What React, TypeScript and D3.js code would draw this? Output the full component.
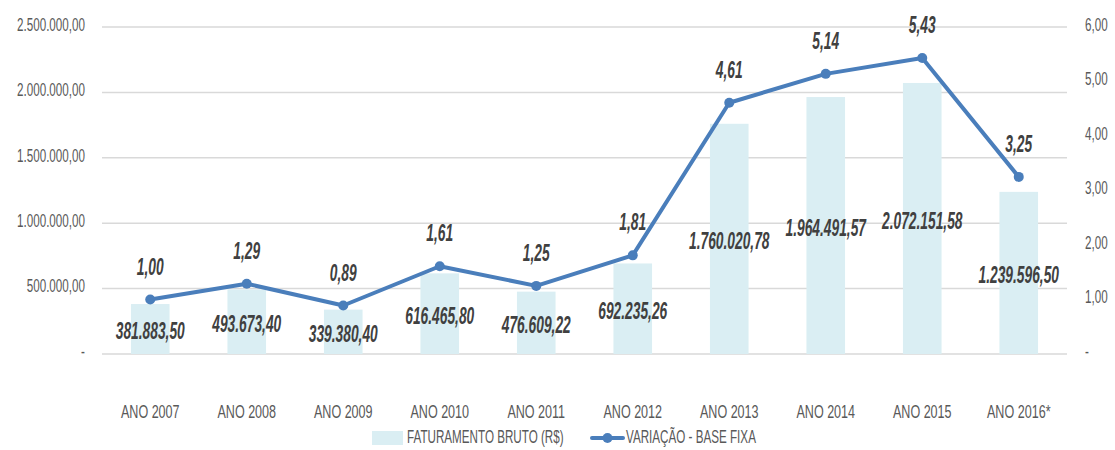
import React from "react";
import * as d3 from "d3";

const years = ["ANO 2007", "ANO 2008", "ANO 2009", "ANO 2010", "ANO 2011", "ANO 2012", "ANO 2013", "ANO 2014", "ANO 2015", "ANO 2016*"];
const faturamento = [381883.5, 493673.4, 339380.4, 616465.8, 476609.22, 692235.26, 1760020.78, 1964491.57, 2072151.58, 1239596.5];
const variacao = [1.0, 1.29, 0.89, 1.61, 1.25, 1.81, 4.61, 5.14, 5.43, 3.25];
const leftTicks = [0, 500000, 1000000, 1500000, 2000000, 2500000];
const rightTicks = [0, 1, 2, 3, 4, 5, 6];
const legendLabels = ["FATURAMENTO BRUTO (R$)", "VARIAÇÃO - BASE FIXA"];

const W = 1115;
const H = 450;
const plot = { left: 102, right: 1067, top: 27, bottom: 354 };

const font = "'Liberation Sans', Arial, sans-serif";
const axisColor = "#595959";
const labelColor = "#404040";
const barColor = "#daeef3";
const lineColor = "#4a7ebb";
const gridColor = "#d9d9d9";

// the original font is a very condensed one, so squeeze the glyphs horizontally
const AXIS_FS = 18.5;
const AXIS_SX = 0.63;
const LABEL_FS = 23;
const LABEL_SX = 0.6;

const br = d3.formatLocale({ decimal: ",", thousands: ".", grouping: [3], currency: ["R$", ""] });
const fmt = br.format(",.2f");
const tickFmt = (v: number) => (v === 0 ? "-" : fmt(v));

function Txt(props: any) {
  const { x, y, sx, children, ...rest } = props;
  return (
    <text transform={`translate(${x},${y}) scale(${sx},1)`} dominantBaseline="middle" {...rest}>
      {children}
    </text>
  );
}

export default function App() {
  const x = d3.scaleBand<string>().domain(years).range([plot.left, plot.right]).paddingInner(0.6).paddingOuter(0.3);
  const yL = d3.scaleLinear().domain([0, 2500000]).range([plot.bottom, plot.top]);
  const yR = d3.scaleLinear().domain([0, 6]).range([plot.bottom, plot.top]);
  const cx = (c: string) => (x(c) as number) + x.bandwidth() / 2;

  const line = d3
    .line<number>()
    .x((_, i) => cx(years[i]))
    .y((d) => yR(d));

  return (
    <svg width={W} height={H} style={{ position: "absolute", left: 0, top: 0, background: "#fff" }} fontFamily={font}>
      {/* gridlines */}
      {leftTicks.map((t) => (
        <line key={"g" + t} x1={plot.left} x2={plot.right} y1={yL(t)} y2={yL(t)} stroke={gridColor} strokeWidth={1.5} />
      ))}

      {/* left axis */}
      {leftTicks.map((t) => (
        <Txt key={"l" + t} x={85} y={yL(t) - 1} sx={AXIS_SX} textAnchor="end" fontSize={AXIS_FS} fill={axisColor}>
          {tickFmt(t)}
        </Txt>
      ))}

      {/* right axis */}
      {rightTicks.map((t) => (
        <Txt key={"r" + t} x={1085} y={yR(t) - 1} sx={AXIS_SX} textAnchor="start" fontSize={AXIS_FS} fill={axisColor}>
          {tickFmt(t)}
        </Txt>
      ))}

      {/* bars */}
      {years.map((c, i) => (
        <rect key={"b" + c} x={x(c)} y={yL(faturamento[i])} width={x.bandwidth()} height={yL(0) - yL(faturamento[i])} fill={barColor} />
      ))}

      {/* x labels */}
      {years.map((c) => (
        <Txt key={"x" + c} x={cx(c)} y={413} sx={0.68} textAnchor="middle" fontSize={AXIS_FS} fill={axisColor}>
          {c}
        </Txt>
      ))}

      {/* line */}
      <path d={line(variacao) as string} fill="none" stroke={lineColor} strokeWidth={4} strokeLinejoin="round" />
      {variacao.map((v, i) => (
        <circle key={"p" + i} cx={cx(years[i])} cy={yR(v)} r={5} fill={lineColor} />
      ))}

      {/* bar labels */}
      {years.map((c, i) => (
        <Txt
          key={"bl" + c}
          x={cx(c)}
          y={(yL(faturamento[i]) + yL(0)) / 2 + 4}
          sx={LABEL_SX}
          textAnchor="middle"
          fontSize={LABEL_FS}
          fontWeight="bold"
          fontStyle="italic"
          fill={labelColor}
        >
          {fmt(faturamento[i])}
        </Txt>
      ))}

      {/* line labels */}
      {variacao.map((v, i) => (
        <Txt
          key={"ll" + i}
          x={cx(years[i])}
          y={yR(v) - 31}
          sx={LABEL_SX}
          textAnchor="middle"
          fontSize={LABEL_FS}
          fontWeight="bold"
          fontStyle="italic"
          fill={labelColor}
        >
          {br.format(".2f")(v)}
        </Txt>
      ))}

      {/* legend */}
      <rect x={372} y={431} width={31} height={14} fill={barColor} />
      <Txt x={407} y={438} sx={AXIS_SX} fontSize={AXIS_FS} fill={axisColor}>
        {legendLabels[0]}
      </Txt>
      <line x1={592} x2={623} y1={438} y2={438} stroke={lineColor} strokeWidth={4} strokeLinecap="round" />
      <circle cx={607.5} cy={438} r={5} fill={lineColor} />
      <Txt x={626} y={438} sx={AXIS_SX} fontSize={AXIS_FS} fill={axisColor}>
        {legendLabels[1]}
      </Txt>
    </svg>
  );
}
